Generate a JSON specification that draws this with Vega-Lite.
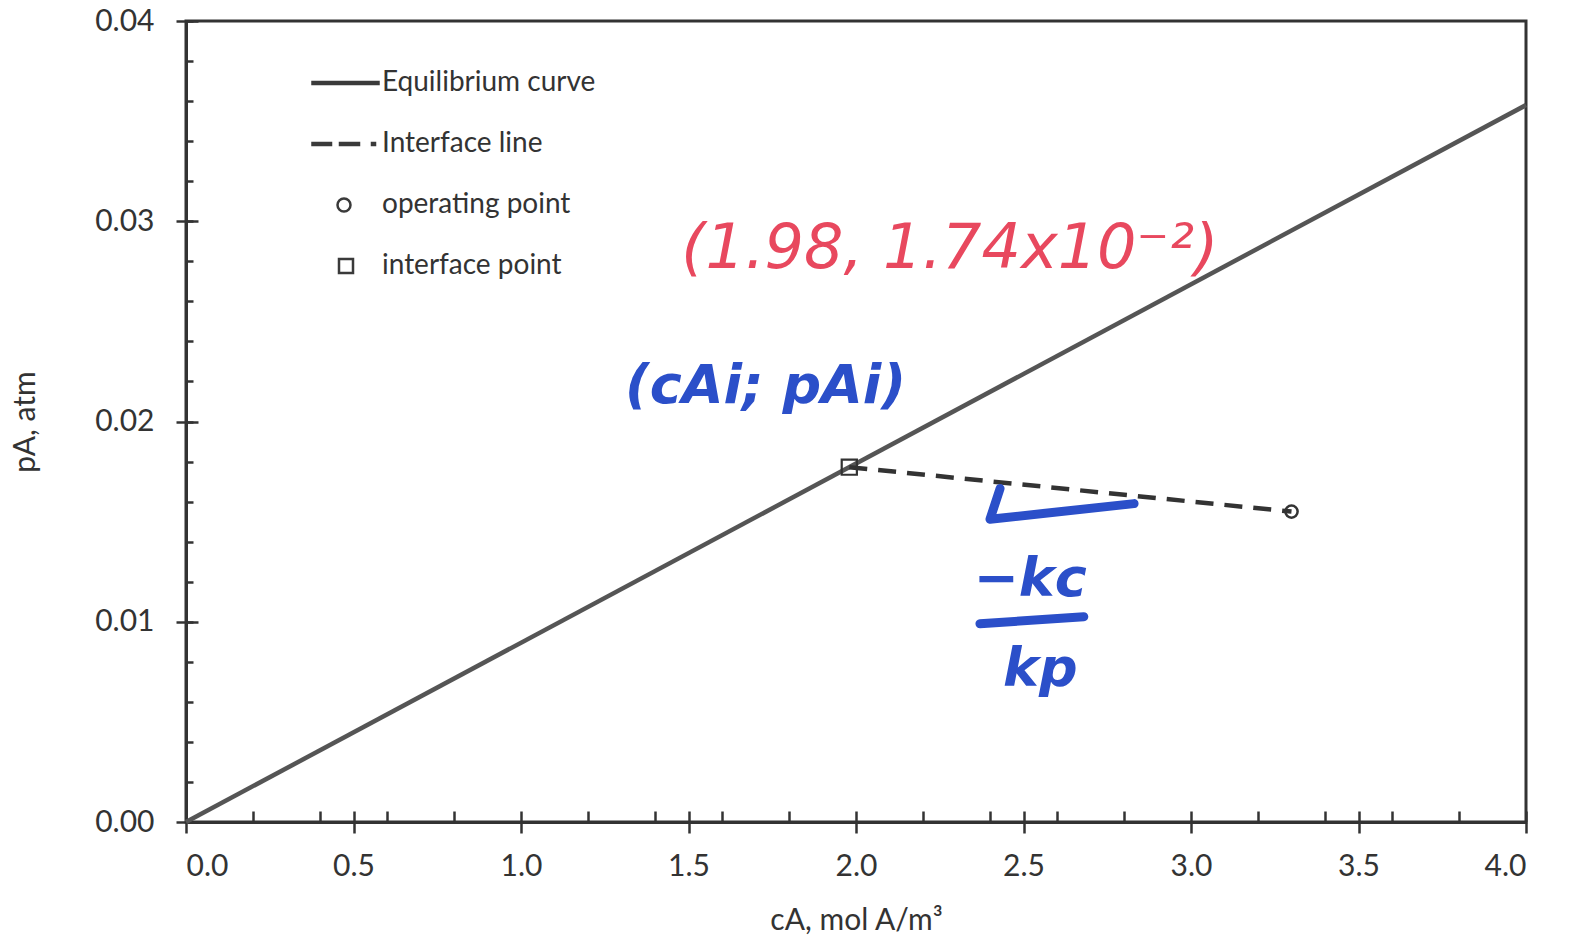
{
  "$schema": "https://vega.github.io/schema/vega-lite/v6.json",
  "width": 1340,
  "height": 801,
  "autosize": {"type": "none"},
  "padding": {"left": 186, "top": 21, "right": 51, "bottom": 118},
  "background": "white",
  "config": {
    "view": {"stroke": "#333", "strokeWidth": 3},
    "font": "Lato",
    "axis": {
      "domainColor": "#333", "domainWidth": 3, "tickColor": "#333", "tickWidth": 2.5, "grid": false,
      "labelFont": "Lato", "labelFontSize": 30, "labelColor": "#333",
      "titleFont": "Lato", "titleFontSize": 30, "titleFontWeight": "normal", "titleColor": "#333"
    }
  },
  "layer": [
    {
      "data": {"values": [{"c": 0, "p": 0}, {"c": 4, "p": 0.0358}]},
      "mark": {"type": "line", "color": "#555", "strokeWidth": 4.5},
      "encoding": {
        "x": {"field": "c", "type": "quantitative", "scale": {"domain": [0, 4], "nice": false},
          "axis": {"orient": "bottom", "values": [0, 0.5, 1, 1.5, 2, 2.5, 3, 3.5, 4], "format": ".1f", "tickSize": 11, "labelPadding": 18, "title": "cA, mol A/m³", "titlePadding": 24}},
        "y": {"field": "p", "type": "quantitative", "scale": {"domain": [0, 0.04], "nice": false},
          "axis": {"orient": "left", "values": [0, 0.01, 0.02, 0.03, 0.04], "format": ".2f", "tickSize": 10, "labelPadding": 22, "title": "pA, atm", "titlePadding": 54}}
      }
    },
    {
      "data": {"values": [{"c": 1.98, "p": 0.01772}, {"c": 3.3, "p": 0.0155}]},
      "mark": {"type": "line", "color": "#333", "strokeWidth": 4.5, "strokeDash": [18, 11]},
      "encoding": {
        "x": {"field": "c", "type": "quantitative", "scale": {"domain": [0, 4], "nice": false},
          "axis": {"orient": "bottom", "values": [0, 0.2, 0.4, 0.5, 0.6, 0.8, 1, 1.2, 1.4, 1.5, 1.6, 1.8, 2, 2.2, 2.4, 2.5, 2.6, 2.8, 3, 3.2, 3.4, 3.5, 3.6, 3.8, 4], "tickSize": -11, "labels": false, "domain": false, "title": null}},
        "y": {"field": "p", "type": "quantitative", "scale": {"domain": [0, 0.04], "nice": false},
          "axis": {"orient": "left", "values": [0, 0.002, 0.004, 0.006, 0.008, 0.01, 0.012, 0.014, 0.016, 0.018, 0.02, 0.022, 0.024, 0.026, 0.028, 0.03, 0.032, 0.034, 0.036, 0.038, 0.04], "tickSize": -7, "labels": false, "domain": false, "title": null}}
      }
    },
    {
      "data": {"values": [{"c": 1.98, "p": 0.01772}]},
      "mark": {"type": "point", "shape": "square", "size": 230, "filled": false, "stroke": "#333", "strokeWidth": 2.2, "opacity": 1},
      "encoding": {
        "x": {"field": "c", "type": "quantitative", "scale": {"domain": [0, 4], "nice": false}, "axis": null},
        "y": {"field": "p", "type": "quantitative", "scale": {"domain": [0, 0.04], "nice": false},
          "axis": {"orient": "left", "values": [0, 0.01, 0.02, 0.03, 0.04], "tickSize": -12, "labels": false, "domain": false, "title": null}}
      }
    },
    {
      "data": {"values": [{"c": 3.3, "p": 0.0155}]},
      "mark": {"type": "point", "shape": "circle", "size": 150, "filled": false, "stroke": "#333", "strokeWidth": 2.5, "opacity": 1},
      "encoding": {
        "x": {"field": "c", "type": "quantitative", "scale": {"domain": [0, 4], "nice": false}, "axis": null},
        "y": {"field": "p", "type": "quantitative", "scale": {"domain": [0, 0.04], "nice": false}, "axis": null}
      }
    },
    {
      "data": {"values": [
        {"c": 0, "p": 0, "s": "Equilibrium curve"},
        {"c": 0, "p": 0, "s": "Interface line"},
        {"c": 0, "p": 0, "s": "operating point"},
        {"c": 0, "p": 0, "s": "interface point"}
      ]},
      "transform": [{"filter": "false"}],
      "mark": {"type": "point", "filled": false, "stroke": "#333", "opacity": 1},
      "encoding": {
        "x": {"field": "c", "type": "quantitative", "scale": {"domain": [0, 4], "nice": false}, "axis": null},
        "y": {"field": "p", "type": "quantitative", "scale": {"domain": [0, 0.04], "nice": false}, "axis": null},
        "shape": {"field": "s", "type": "nominal",
          "scale": {"domain": ["Equilibrium curve", "Interface line", "operating point", "interface point"],
            "range": [
              "M-3.35,-0.1H3.25V0.1H-3.35Z",
              "M-3.35,-0.1H-1.5V0.1H-3.35ZM-0.6,-0.1H1.3V0.1H-0.6ZM2.6,-0.1H2.9V0.1H2.6Z",
              "M0.45,0A0.65,0.65,0,1,1,-0.85,0A0.65,0.65,0,1,1,0.45,0Z",
              "M-0.7,-0.7H0.7V0.7H-0.7Z"]},
          "legend": {
            "orient": "none", "legendX": 146, "legendY": 48, "title": null, "padding": 0,
            "labelFont": "Lato", "labelFontSize": 28, "labelColor": "#333", "labelOffset": 22, "labelLimit": 0,
            "symbolSize": 400, "rowPadding": 33, "symbolFillColor": "transparent", "symbolStrokeColor": "#3a3a3a", "symbolStrokeWidth": 2.5, "symbolOpacity": 1
          }}
      }
    },
    {
      "data": {"values": [{"c": 2.28, "p": 0.0286, "t": "(1.98, 1.74x10⁻²)"}]},
      "mark": {"type": "text", "color": "#e8485e", "font": "DejaVu Sans", "fontSize": 62, "fontStyle": "italic", "align": "center", "baseline": "middle"},
      "encoding": {
        "x": {"field": "c", "type": "quantitative", "scale": {"domain": [0, 4], "nice": false}, "axis": null},
        "y": {"field": "p", "type": "quantitative", "scale": {"domain": [0, 0.04], "nice": false}, "axis": null},
        "text": {"field": "t"}
      }
    },
    {
      "data": {"values": [
        {"c": 1.73, "p": 0.0217, "t": "(cAi; pAi)"},
        {"c": 2.52, "p": 0.0121, "t": "−kc"},
        {"c": 2.55, "p": 0.0076, "t": "kp"}
      ]},
      "mark": {"type": "text", "color": "#2b4fc9", "font": "DejaVu Sans", "fontSize": 54, "fontWeight": "bold", "fontStyle": "italic", "align": "center", "baseline": "middle"},
      "encoding": {
        "x": {"field": "c", "type": "quantitative", "scale": {"domain": [0, 4], "nice": false}, "axis": null},
        "y": {"field": "p", "type": "quantitative", "scale": {"domain": [0, 0.04], "nice": false}, "axis": null},
        "text": {"field": "t"}
      }
    },
    {
      "data": {"values": [
        {"part": "slope", "o": 1, "c": 2.43, "p": 0.01665},
        {"part": "slope", "o": 2, "c": 2.40, "p": 0.01512},
        {"part": "slope", "o": 3, "c": 2.83, "p": 0.0159},
        {"part": "bar", "o": 1, "c": 2.37, "p": 0.0099},
        {"part": "bar", "o": 2, "c": 2.68, "p": 0.01025}
      ]},
      "mark": {"type": "line", "color": "#2b4fc9", "strokeWidth": 9, "strokeCap": "round", "strokeJoin": "round"},
      "encoding": {
        "x": {"field": "c", "type": "quantitative", "scale": {"domain": [0, 4], "nice": false}, "axis": null},
        "y": {"field": "p", "type": "quantitative", "scale": {"domain": [0, 0.04], "nice": false}, "axis": null},
        "detail": {"field": "part"},
        "order": {"field": "o"}
      }
    }
  ],
  "resolve": {"axis": {"x": "independent", "y": "independent"}}
}
